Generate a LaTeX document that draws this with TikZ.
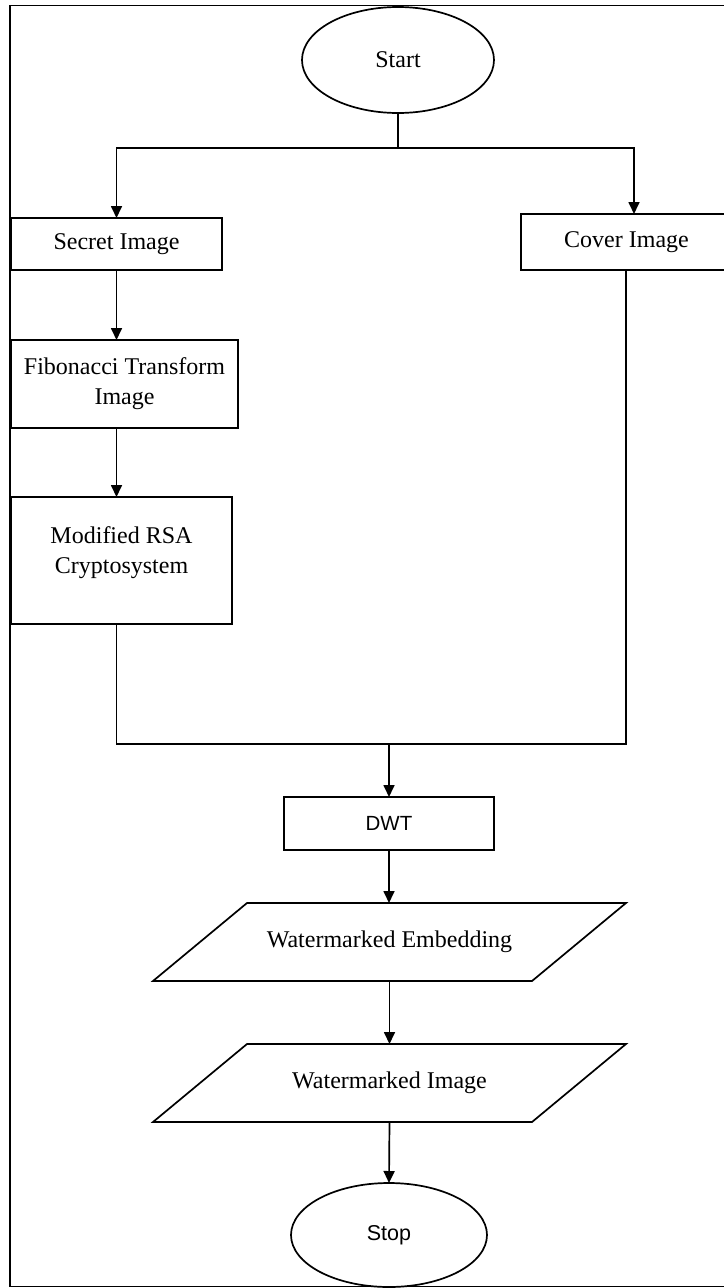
\documentclass[tikz,border=0pt]{standalone}
\usepackage{fontspec}
\setmainfont{Liberation Serif}
\newfontfamily\arialf{Liberation Sans}
\usetikzlibrary{arrows.meta,shapes.geometric,calc}
\begin{document}
\begin{tikzpicture}[x=1pt,y=-1pt,
  line width=1.7pt,
  serif24/.style={font=\fontsize{24}{30}\selectfont},
  box/.style={draw,rectangle,inner sep=0pt,outer sep=0pt,align=center,serif24},
  oval/.style={draw,ellipse,inner sep=0pt,outer sep=0pt},
  para/.style={rectangle,inner sep=0pt,outer sep=0pt,align=center,serif24,minimum width=473pt,minimum height=78pt},
  arr/.style={-{Triangle[length=12pt,width=11pt]}}
]
\useasboundingbox (0,0) rectangle (723,1288);
% frame
\draw[line width=1.9pt] (745,5.5) -- (10,5.5) -- (10,1286.5) -- (745,1286.5);

\node[oval,serif24,minimum width=192pt,minimum height=106pt] (start) at (398,60) {Start};
\node[box,minimum width=211pt,minimum height=52pt] (secret) at (116.5,244) {Secret Image};
\node[box,minimum width=229pt,minimum height=56pt,
  label={[serif24,xshift=-9pt]center:Cover Image}] (cover) at (635.5,242) {};
\node[box,minimum width=227pt,minimum height=88pt] (fib) at (124.5,384) {Fibonacci Transform\\Image};
\node[box,minimum width=221pt,minimum height=127pt,
  label={[serif24,align=center,yshift=8pt]center:Modified RSA\\Cryptosystem}] (rsa) at (121.5,560.5) {};
\node[box,font=\arialf\fontsize{20.5}{24}\selectfont,minimum width=210pt,minimum height=53pt] (dwt) at (389,823.5) {DWT};
\node[para] (emb) at (389.5,942) {Watermarked Embedding};
\node[para] (img) at (389.5,1083) {Watermarked Image};
\node[oval,font=\arialf\fontsize{21.5}{25}\selectfont,minimum width=196pt,minimum height=104pt] (stop) at (389,1235) {Stop};

\draw ([xshift=94pt]emb.north west) -- (emb.north east) -- ([xshift=-94pt]emb.south east) -- (emb.south west) -- cycle;
\draw ([xshift=94pt]img.north west) -- (img.north east) -- ([xshift=-94pt]img.south east) -- (img.south west) -- cycle;

% split from start
\coordinate (j) at (398,148);
\coordinate (cj) at (634,148);
\coordinate (cx) at (626,0);
\draw (start.south) -- (j);
\draw[arr] (j) -| (secret.north);
\draw[arr] (j) -- (cj) -- (cj |- cover.north);

% left chain
\draw[arr] (secret.south) -- (secret.south |- fib.north);
\draw[arr] (secret.south |- fib.south) -- (secret.south |- rsa.north);

% merge
\coordinate (m) at (389,744);
\draw (secret.south |- rsa.south) -- (secret.south |- m) -- (cx |- m) -- (cx |- cover.south);
\draw[arr] (m) -- (dwt.north);

% lower chain
\draw[arr] (dwt.south) -- (dwt.south |- emb.north);
\draw[arr] (emb.south) -- (img.north);
\draw[arr] (img.south) -- (stop.north);
\end{tikzpicture}
\end{document}
